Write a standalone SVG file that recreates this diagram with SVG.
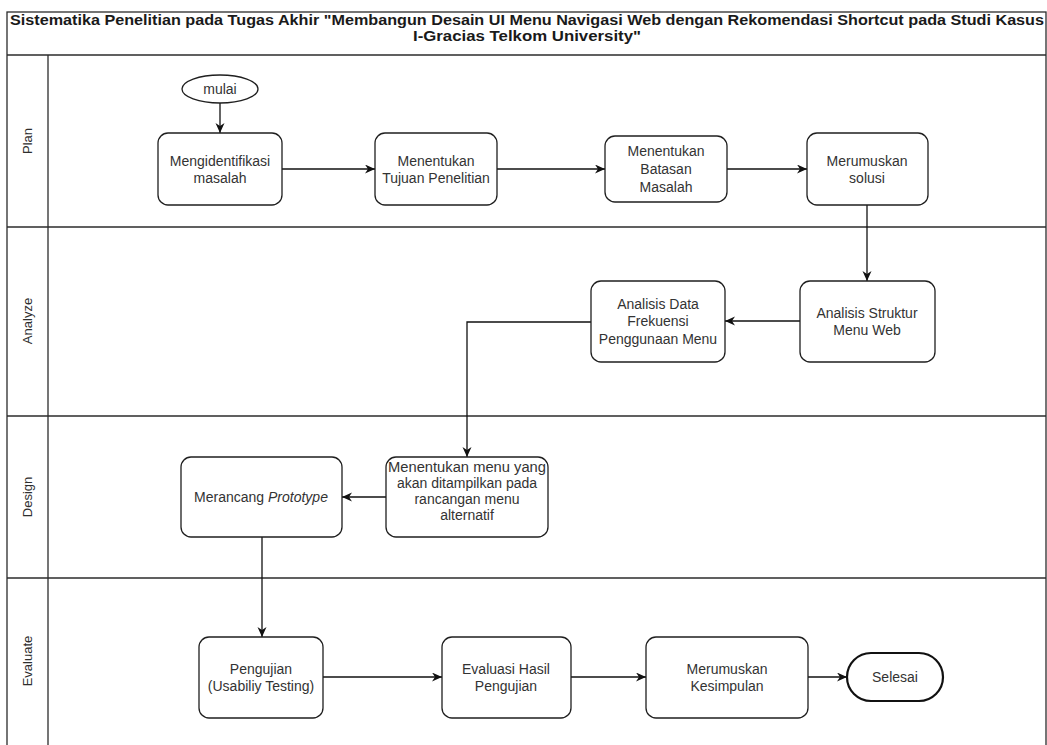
<svg xmlns="http://www.w3.org/2000/svg" width="1047" height="745" viewBox="0 0 1047 745">
  <style>
    .frame { fill: none; stroke: #2b2b2b; stroke-width: 1.3; }
    .node { fill: #ffffff; stroke: #1f1f1f; stroke-width: 1.3; }
    .term { fill: #ffffff; stroke: #111111; stroke-width: 2.2; }
    .txt { font-family: "Liberation Sans", Arial, sans-serif; font-size: 14px; fill: #333333; text-anchor: middle; }
    .lane { font-family: "Liberation Sans", Arial, sans-serif; font-size: 13px; fill: #2e2e2e; text-anchor: middle; }
    .title { font-family: "Liberation Sans", Arial, sans-serif; font-size: 14px; font-weight: bold; fill: #1a1a1a; text-anchor: middle; }
    .edge { fill: none; stroke: #111111; stroke-width: 1.3; }
  </style>
  <defs>
    <marker id="arrow" markerUnits="userSpaceOnUse" markerWidth="12" markerHeight="10" refX="10" refY="4.5" orient="auto">
      <path d="M0,0 L10,4.5 L0,9 L3,4.5 z" fill="#111111"/>
    </marker>
  </defs>

  <rect x="0" y="0" width="1047" height="745" fill="#ffffff"/>

  <!-- pool frame with title bar and swimlanes -->
  <g id="pool">
    <rect class="frame" x="7" y="12" width="1039" height="745"/>
    <line class="frame" x1="7" y1="55" x2="1046" y2="55"/>
    <line class="frame" x1="7" y1="227" x2="1046" y2="227"/>
    <line class="frame" x1="7" y1="416" x2="1046" y2="416"/>
    <line class="frame" x1="7" y1="578" x2="1046" y2="578"/>
    <line class="frame" x1="48" y1="55" x2="48" y2="757"/>
    <text class="title" x="527" y="25" textLength="1034" lengthAdjust="spacingAndGlyphs">Sistematika Penelitian pada Tugas Akhir "Membangun Desain UI Menu Navigasi Web dengan Rekomendasi Shortcut pada Studi Kasus</text>
    <text class="title" x="527" y="41" textLength="228" lengthAdjust="spacingAndGlyphs">I-Gracias Telkom University"</text>
  </g>

  <g id="lane-labels">
    <text class="lane" transform="translate(32,141) rotate(-90)">Plan</text>
    <text class="lane" transform="translate(32,321) rotate(-90)">Analyze</text>
    <text class="lane" transform="translate(32,497) rotate(-90)">Design</text>
    <text class="lane" transform="translate(32,661) rotate(-90)">Evaluate</text>
  </g>

  <!-- connectors -->
  <g id="connectors">
    <line class="edge" x1="220" y1="103" x2="220" y2="133" marker-end="url(#arrow)"/>
    <line class="edge" x1="282" y1="169" x2="375" y2="169" marker-end="url(#arrow)"/>
    <line class="edge" x1="497" y1="169" x2="605" y2="169" marker-end="url(#arrow)"/>
    <line class="edge" x1="727" y1="169" x2="807" y2="169" marker-end="url(#arrow)"/>
    <line class="edge" x1="867" y1="205" x2="867" y2="281" marker-end="url(#arrow)"/>
    <line class="edge" x1="800" y1="321" x2="725" y2="321" marker-end="url(#arrow)"/>
    <polyline class="edge" points="591,322 467,322 467,457" marker-end="url(#arrow)"/>
    <line class="edge" x1="386" y1="497" x2="342" y2="497" marker-end="url(#arrow)"/>
    <line class="edge" x1="262" y1="537" x2="262" y2="637" marker-end="url(#arrow)"/>
    <line class="edge" x1="323" y1="677" x2="442" y2="677" marker-end="url(#arrow)"/>
    <line class="edge" x1="571" y1="677" x2="646" y2="677" marker-end="url(#arrow)"/>
    <line class="edge" x1="808" y1="677" x2="847" y2="677" marker-end="url(#arrow)"/>
  </g>

  <!-- Plan lane -->
  <g id="mulai">
    <ellipse class="node" cx="220" cy="89" rx="38" ry="14"/>
    <text class="txt" x="220" y="94">mulai</text>
  </g>
  <g id="mengidentifikasi">
    <rect class="node" x="158" y="133" width="124" height="72" rx="10"/>
    <text class="txt" x="220" y="166">Mengidentifikasi</text>
    <text class="txt" x="220" y="183">masalah</text>
  </g>
  <g id="tujuan">
    <rect class="node" x="375" y="133" width="122" height="72" rx="10"/>
    <text class="txt" x="436" y="166">Menentukan</text>
    <text class="txt" x="436" y="183">Tujuan Penelitian</text>
  </g>
  <g id="batasan">
    <rect class="node" x="605" y="136" width="122" height="66" rx="10"/>
    <text class="txt" x="666" y="156">Menentukan</text>
    <text class="txt" x="666" y="174">Batasan</text>
    <text class="txt" x="666" y="192">Masalah</text>
  </g>
  <g id="solusi">
    <rect class="node" x="807" y="133" width="121" height="72" rx="10"/>
    <text class="txt" x="867" y="166">Merumuskan</text>
    <text class="txt" x="867" y="183">solusi</text>
  </g>

  <!-- Analyze lane -->
  <g id="struktur">
    <rect class="node" x="800" y="281" width="135" height="81" rx="10"/>
    <text class="txt" x="867" y="318">Analisis Struktur</text>
    <text class="txt" x="867" y="335">Menu Web</text>
  </g>
  <g id="frekuensi">
    <rect class="node" x="591" y="281" width="134" height="81" rx="10"/>
    <text class="txt" x="658" y="309">Analisis Data</text>
    <text class="txt" x="658" y="326">Frekuensi</text>
    <text class="txt" x="658" y="344">Penggunaan Menu</text>
  </g>

  <!-- Design lane -->
  <g id="menu-tampil">
    <rect class="node" x="386" y="457" width="162" height="80" rx="10"/>
    <text class="txt" x="467" y="472" textLength="158" lengthAdjust="spacingAndGlyphs">Menentukan menu yang</text>
    <text class="txt" x="467" y="488">akan ditampilkan pada</text>
    <text class="txt" x="467" y="504">rancangan menu</text>
    <text class="txt" x="467" y="520">alternatif</text>
  </g>
  <g id="prototype">
    <rect class="node" x="181" y="457" width="161" height="80" rx="10"/>
    <text class="txt" x="261" y="502">Merancang <tspan font-style="italic">Prototype</tspan></text>
  </g>

  <!-- Evaluate lane -->
  <g id="pengujian">
    <rect class="node" x="199" y="637" width="124" height="81" rx="10"/>
    <text class="txt" x="261" y="674">Pengujian</text>
    <text class="txt" x="261" y="691">(Usabiliy Testing)</text>
  </g>
  <g id="evaluasi">
    <rect class="node" x="442" y="637" width="129" height="81" rx="10"/>
    <text class="txt" x="506" y="674">Evaluasi Hasil</text>
    <text class="txt" x="506" y="691">Pengujian</text>
  </g>
  <g id="kesimpulan">
    <rect class="node" x="646" y="637" width="162" height="81" rx="10"/>
    <text class="txt" x="727" y="674">Merumuskan</text>
    <text class="txt" x="727" y="691">Kesimpulan</text>
  </g>
  <g id="selesai">
    <rect class="term" x="847" y="653" width="96" height="48" rx="24"/>
    <text class="txt" x="895" y="682">Selesai</text>
  </g>
</svg>
